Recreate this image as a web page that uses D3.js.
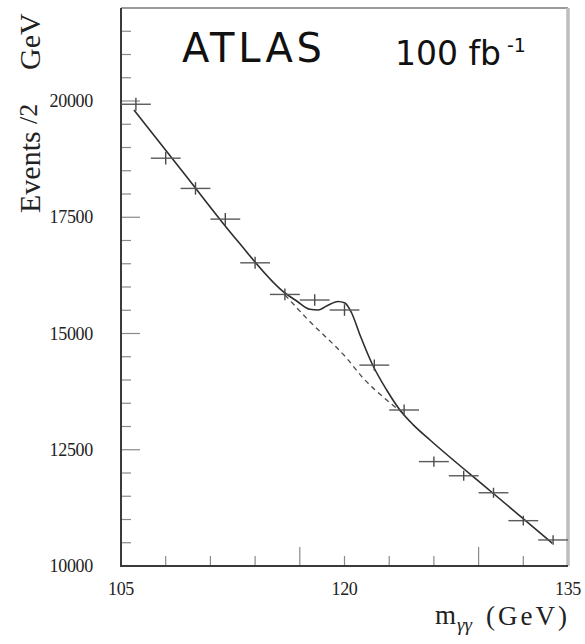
<!DOCTYPE html>
<html>
<head>
<meta charset="utf-8">
<script src="https://cdn.jsdelivr.net/npm/d3@7"></script>
<style>
  html, body { margin: 0; padding: 0; background: #fff; }
  svg { display: block; }
</style>
</head>
<body>
<svg id="chart" width="585" height="644"></svg>
<script>
// Di-photon invariant mass spectrum, 2 GeV bins
const massBins = [106, 108, 110, 112, 114, 116, 118, 120, 122, 124, 126, 128, 130, 132, 134];
const events   = [19930, 18770, 18120, 17460, 16520, 15840, 15720, 15505, 14320, 13355, 12245, 11940, 11575, 10975, 10560];
const errors   = [141, 137, 135, 132, 129, 126, 125, 125, 120, 116, 111, 109, 108, 105, 103];
const binHalfWidth = 1;

// Signal + background fit
const fitMass   = [105.87, 109.3, 112.77, 116.0, 116.79, 117.68, 118.22, 118.8, 119.56, 120.03, 120.48, 121.04, 121.89, 122.83, 123.72, 124.6, 125.74, 129.83, 133.95];
const fitEvents = [19806, 18413, 17011, 15871, 15699, 15520, 15505, 15591, 15688, 15656, 15441, 14968, 14323, 13785, 13355, 13040, 12710, 11602, 10488];

// Background-only continuation under the peak
const bkgMass   = [116.0, 117.5, 120.15, 121.26, 122.83, 124.0];
const bkgEvents = [15830, 15314, 14467, 14037, 13570, 13270];

// Axis ticks
const yMajorTicks = [10000, 12500, 15000, 17500, 20000];
const yMinorTicks = d3.range(10500, 22000, 500).filter(v => v % 2500 !== 0);
const xTicks      = [108, 111, 114, 117, 120, 123, 126, 129, 132];
const xLongTicks  = [117, 129];
const xTickLabels = [105, 120, 135];

const svg = d3.select("#chart");
const plotLeft = 121, plotRight = 568, plotTop = 8, plotBottom = 566;

const x = d3.scaleLinear().domain([105, 135]).range([plotLeft, plotRight]);
const y = d3.scaleLinear().domain([10000, 22000]).range([plotBottom, plotTop]);

const serif = "'Liberation Serif', 'Times New Roman', serif";
const tickColor = "#8a8a8a";

// Frame
svg.append("line").attr("x1", plotLeft).attr("x2", plotRight).attr("y1", plotTop).attr("y2", plotTop)
  .attr("stroke", "#7a7a7a").attr("stroke-width", 1.5);
svg.append("line").attr("x1", plotRight).attr("x2", plotRight).attr("y1", plotTop).attr("y2", plotBottom)
  .attr("stroke", "#bdbdbd").attr("stroke-width", 3.5);

// Y ticks
svg.append("g").selectAll("line").data(yMajorTicks).join("line")
  .attr("x1", plotLeft).attr("x2", plotLeft + 19)
  .attr("y1", d => y(d)).attr("y2", d => y(d))
  .attr("stroke", tickColor).attr("stroke-width", 1.2);
svg.append("g").selectAll("line").data(yMinorTicks).join("line")
  .attr("x1", plotLeft).attr("x2", plotLeft + 10)
  .attr("y1", d => y(d)).attr("y2", d => y(d))
  .attr("stroke", tickColor).attr("stroke-width", 1.2);

// X ticks
svg.append("g").selectAll("line").data(xTicks).join("line")
  .attr("x1", d => x(d)).attr("x2", d => x(d))
  .attr("y1", plotBottom).attr("y2", d => plotBottom - (xLongTicks.includes(d) ? 19 : 10))
  .attr("stroke", tickColor).attr("stroke-width", 1.2);

// Axis lines
svg.append("line").attr("x1", plotLeft).attr("x2", plotLeft).attr("y1", plotTop).attr("y2", plotBottom)
  .attr("stroke", "#3a3a3a").attr("stroke-width", 2);
svg.append("line").attr("x1", plotLeft - 1).attr("x2", plotRight).attr("y1", plotBottom).attr("y2", plotBottom)
  .attr("stroke", "#3a3a3a").attr("stroke-width", 2);

// Y tick labels
svg.append("g").selectAll("text").data(yMajorTicks).join("text")
  .attr("x", 93).attr("y", d => y(d) + 6)
  .attr("text-anchor", "end")
  .attr("font-family", serif).attr("font-size", 18)
  .attr("letter-spacing", -0.3)
  .attr("fill", "#222")
  .text(d => d);

// X tick labels
svg.append("g").selectAll("text").data(xTickLabels).join("text")
  .attr("x", d => x(d)).attr("y", 595)
  .attr("text-anchor", "middle")
  .attr("font-family", serif).attr("font-size", 18)
  .attr("letter-spacing", -0.3)
  .attr("fill", "#222")
  .text(d => d);

// Background (dashed)
const smooth = d3.line().x(d => x(d[0])).y(d => y(d[1])).curve(d3.curveMonotoneX);
svg.append("path")
  .datum(d3.zip(bkgMass, bkgEvents))
  .attr("d", smooth)
  .attr("fill", "none").attr("stroke", "#4a4a4a").attr("stroke-width", 1.3)
  .attr("stroke-dasharray", "5,4");

// Fit (solid)
svg.append("path")
  .datum(d3.zip(fitMass, fitEvents))
  .attr("d", smooth)
  .attr("fill", "none").attr("stroke", "#2e2e2e").attr("stroke-width", 1.6);

// Data points with error crosses
const pts = svg.append("g").selectAll("g").data(d3.zip(massBins, events, errors)).join("g");
pts.append("line")
  .attr("x1", d => x(d[0] - binHalfWidth)).attr("x2", d => x(d[0] + binHalfWidth))
  .attr("y1", d => y(d[1])).attr("y2", d => y(d[1]))
  .attr("stroke", "#5a5a5a").attr("stroke-width", 1.4);
pts.append("line")
  .attr("x1", d => x(d[0])).attr("x2", d => x(d[0]))
  .attr("y1", d => y(d[1] - d[2])).attr("y2", d => y(d[1] + d[2]))
  .attr("stroke", "#4a4a4a").attr("stroke-width", 1.4);

// Y axis title
const yTitle = svg.append("text")
  .attr("transform", "rotate(-90)")
  .attr("font-family", serif).attr("font-size", 30).attr("fill", "#222");
yTitle.append("tspan").attr("x", -213).attr("y", 40).text("Events");
yTitle.append("tspan").attr("x", -124).attr("y", 37).attr("font-size", 26).text("/2");
yTitle.append("tspan").attr("x", -70).attr("y", 40).text("GeV");

// X axis title
const xTitle = svg.append("text")
  .attr("font-family", serif).attr("font-size", 27).attr("fill", "#222");
xTitle.append("tspan").attr("x", 435).attr("y", 624).text("m");
xTitle.append("tspan").attr("x", 457).attr("y", 631).attr("font-size", 19)
  .attr("font-style", "italic").text("γγ");
xTitle.append("tspan").attr("x", 486).attr("y", 625).attr("textLength", 81)
  .attr("lengthAdjust", "spacing").text("(GeV)");

// Experiment and luminosity labels
const comic = "'Comic Sans MS', 'DejaVu Sans', sans-serif";
svg.append("text")
  .attr("x", 182).attr("y", 62)
  .attr("font-family", comic).attr("font-size", 40).attr("fill", "#111")
  .attr("textLength", 140).attr("lengthAdjust", "spacing")
  .text("ATLAS");
svg.append("text")
  .attr("x", 395).attr("y", 65)
  .attr("font-family", comic).attr("font-size", 33).attr("fill", "#111")
  .text("100 fb");
svg.append("text")
  .attr("x", 507).attr("y", 52)
  .attr("font-family", comic).attr("font-size", 19).attr("fill", "#111")
  .text("-1");
</script>
</body>
</html>
